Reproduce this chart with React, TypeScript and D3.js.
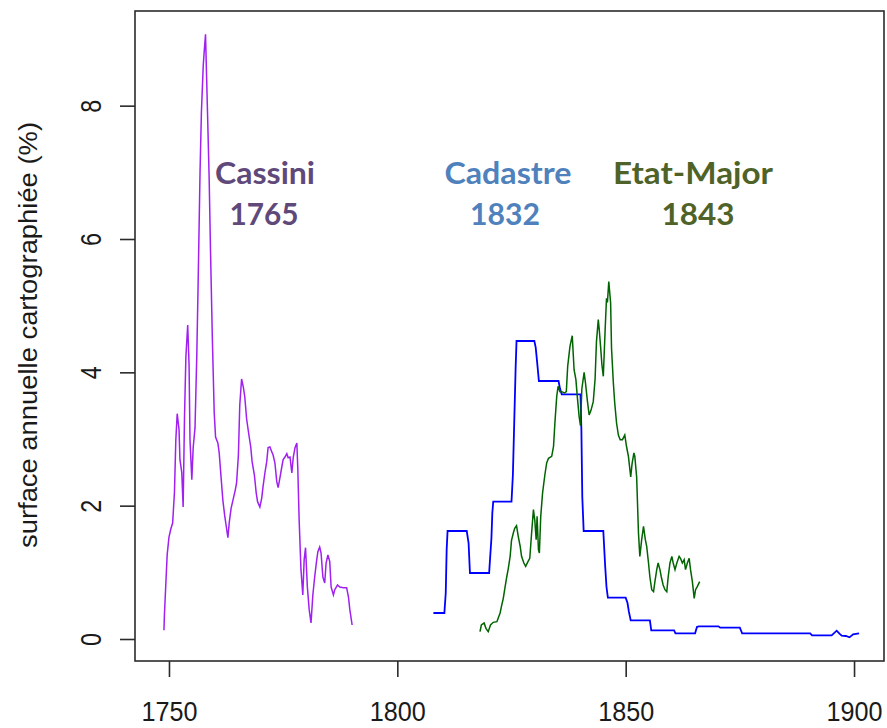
import React, { useEffect, useRef } from "react";
import * as d3 from "d3";

// Cassini survey (purple)
const cassiniYears = [
  1748.9, 1749.0, 1749.3, 1749.6, 1750.0, 1750.4, 1750.8, 1751.2, 1751.5, 1751.8,
  1752.2, 1752.4, 1752.8, 1753.1, 1753.4, 1753.7, 1754.1, 1754.4, 1754.6, 1755.0,
  1755.3, 1755.7, 1756.1, 1756.4, 1756.8, 1757.1, 1757.5, 1757.7, 1758.0, 1758.4,
  1758.8, 1759.1, 1759.5, 1759.9, 1760.2, 1760.7, 1761.0, 1761.4, 1761.8, 1762.2,
  1762.5, 1762.9, 1763.2, 1763.6, 1764.1, 1764.5, 1764.8, 1765.2, 1765.5, 1765.9,
  1766.3, 1766.6, 1767.0, 1767.5, 1767.9, 1768.2, 1768.7, 1769.1, 1769.4, 1769.9,
  1770.3, 1770.6, 1771.0, 1771.4, 1771.7, 1772.1, 1772.5, 1772.8, 1773.2, 1773.6,
  1773.9, 1774.3, 1774.7, 1775.0, 1775.4, 1775.8, 1776.1, 1776.5, 1776.9, 1777.2,
  1777.6, 1778.0, 1778.2, 1778.5, 1778.9, 1779.3, 1779.6, 1779.9, 1780.3, 1780.7,
  1781.1, 1781.5, 1781.9, 1782.3, 1782.6, 1783.0, 1783.3, 1783.7, 1784.1, 1784.4,
  1784.8, 1785.2, 1785.5, 1786.0, 1786.3, 1786.9, 1787.4, 1788.2, 1788.9, 1789.3,
  1789.6, 1790.1,
];
const cassiniValues = [
  0.13, 0.36, 0.81, 1.26, 1.53, 1.65, 1.74, 2.2, 2.99, 3.38,
  3.14, 2.69, 2.5, 1.98, 3.33, 4.23, 4.71, 4.11, 2.99, 2.39,
  2.87, 3.17, 4.29, 5.4, 7.0, 7.9, 8.6, 8.8, 9.07, 8.0,
  6.9, 5.8, 4.5, 3.4, 3.03, 2.94, 2.79, 2.43, 2.08, 1.85,
  1.71, 1.52, 1.75, 1.96, 2.11, 2.23, 2.34, 2.76, 3.51, 3.9,
  3.77, 3.63, 3.3, 3.06, 2.88, 2.66, 2.46, 2.19, 2.06, 1.98,
  2.11, 2.29, 2.49, 2.66, 2.87, 2.88, 2.81, 2.76, 2.64, 2.36,
  2.27, 2.42, 2.58, 2.69, 2.73, 2.78, 2.72, 2.73, 2.49, 2.72,
  2.87, 2.94, 2.57, 1.79, 1.04, 0.66, 1.19, 1.37, 0.78, 0.44,
  0.24, 0.66, 0.93, 1.16, 1.31, 1.38, 1.29, 0.93, 0.84, 1.14,
  1.26, 1.16, 0.78, 0.66, 0.74, 0.81, 0.78, 0.77, 0.77, 0.63,
  0.44, 0.21,
];

// Cadastre (blue)
const cadastreYears = [
  1807.9, 1810.3, 1810.6, 1810.8, 1811.0, 1815.2, 1815.6, 1815.9, 1820.1, 1820.3,
  1820.6, 1820.8, 1821.0, 1825.0, 1825.3, 1825.6, 1825.9, 1826.1, 1830.0, 1830.3,
  1830.6, 1831.0, 1835.3, 1835.6, 1836.0, 1840.1, 1840.3, 1840.5, 1840.8, 1845.1,
  1845.5, 1845.8, 1846.1, 1850.0, 1850.4, 1850.7, 1851.1, 1855.3, 1855.6, 1860.6,
  1860.9, 1865.2, 1865.6, 1866.0, 1870.3, 1870.7, 1875.0, 1875.5, 1890.4, 1890.8,
  1895.1, 1896.2, 1896.8, 1897.3, 1898.2, 1899.0, 1899.8, 1901.1,
];
const cadastreValues = [
  0.39, 0.39, 0.69, 1.34, 1.62, 1.62, 1.44, 0.99, 0.99, 1.2,
  1.51, 1.89, 2.06, 2.06, 2.46, 3.26, 4.06, 4.47, 4.47, 4.37,
  4.16, 3.87, 3.87, 3.76, 3.67, 3.67, 3.14, 2.13, 1.62, 1.62,
  1.1, 0.78, 0.62, 0.62, 0.54, 0.41, 0.28, 0.28, 0.13, 0.13,
  0.085, 0.085, 0.18, 0.19, 0.19, 0.17, 0.17, 0.085, 0.085, 0.055,
  0.055, 0.125, 0.08, 0.05, 0.045, 0.025, 0.07, 0.085,
];

// Etat-Major (green)
const etatMajorYears = [
  1818.1, 1818.4, 1819.0, 1819.4, 1819.9, 1820.4, 1821.0, 1821.8, 1822.5, 1822.8,
  1823.2, 1823.5, 1823.9, 1824.3, 1824.7, 1825.0, 1825.4, 1825.7, 1826.1, 1826.5,
  1826.9, 1827.2, 1827.7, 1828.1, 1828.6, 1829.0, 1829.4, 1829.8, 1830.1, 1830.4,
  1830.6, 1830.9, 1831.1, 1831.4, 1831.8, 1832.3, 1832.7, 1833.1, 1833.8, 1834.2,
  1834.5, 1834.9, 1835.2, 1835.6, 1836.0, 1836.6, 1837.0, 1837.3, 1837.8, 1838.3,
  1838.7, 1839.1, 1839.4, 1839.8, 1840.1, 1840.4, 1840.9, 1841.2, 1841.6, 1842.0,
  1842.4, 1842.9, 1843.3, 1843.6, 1844.0, 1844.2, 1844.5, 1844.8, 1845.1, 1845.5,
  1845.8, 1846.0, 1846.3, 1846.7, 1846.9, 1847.3, 1847.6, 1848.0, 1848.4, 1848.8,
  1849.3, 1849.8, 1850.2, 1850.6, 1851.1, 1851.4, 1851.8, 1852.0, 1852.4, 1852.8,
  1853.1, 1853.5, 1853.9, 1854.3, 1854.6, 1855.0, 1855.3, 1855.7, 1856.1, 1856.4,
  1856.8, 1857.1, 1857.5, 1857.8, 1858.2, 1858.6, 1859.0, 1859.3, 1859.7, 1860.1,
  1860.4, 1860.8, 1861.2, 1861.7, 1862.0, 1862.4, 1862.8, 1863.1, 1863.5, 1863.9,
  1864.2, 1864.6, 1865.0, 1865.3, 1865.7, 1866.2,
];
const etatMajorValues = [
  0.11, 0.21, 0.24, 0.16, 0.11, 0.21, 0.25, 0.26, 0.39, 0.49,
  0.61, 0.74, 0.91, 1.06, 1.24, 1.48, 1.59, 1.66, 1.7, 1.53,
  1.39, 1.24, 1.14, 1.09, 1.16, 1.21, 1.59, 1.94, 1.78, 1.49,
  1.84, 1.34, 1.29, 1.84, 2.19, 2.46, 2.64, 2.71, 2.74, 2.89,
  3.24, 3.64, 3.79, 3.71, 3.71, 3.69, 3.71, 4.09, 4.39, 4.55,
  4.04, 3.89, 3.64, 3.34, 3.2, 3.75, 4.0, 3.84, 3.58, 3.36,
  3.43, 3.56, 3.9, 4.46, 4.79, 4.65, 4.39, 4.11, 3.94, 4.64,
  5.11, 5.05, 5.36, 5.04, 4.36, 3.84, 3.54, 3.24, 3.06, 2.99,
  2.99, 3.06, 2.88, 2.74, 2.43, 2.63, 2.79, 2.74, 2.43, 1.59,
  1.24, 1.49, 1.69, 1.49, 1.39, 1.14, 0.93, 0.74, 0.71, 0.86,
  1.04, 1.14, 1.04, 0.93, 0.81, 0.74, 0.71, 0.93, 1.14, 1.24,
  1.14, 1.04, 1.14, 1.24, 1.21, 1.14, 1.19, 1.04, 1.14, 1.21,
  1.04, 0.86, 0.61, 0.74, 0.79, 0.86,
];

const xTicks = [1750, 1800, 1850, 1900];
const yTicks = [0, 2, 4, 6, 8];
const annotationNames = ["Cassini", "Cadastre", "Etat-Major"];
const annotationYears = ["1765", "1832", "1843"];
const yTitle = "surface annuelle cartographiée (%)";

const width = 887,
  height = 728;
const plot = { left: 135, right: 884, top: 11, bottom: 661 };

const x = d3.scaleLinear().domain([1742.56, 1906.56]).range([plot.left, plot.right]);
const y = d3.scaleLinear().domain([-0.33, 9.42]).range([plot.bottom, plot.top]);

export default function App() {
  const ref = useRef<SVGSVGElement>(null);

  useEffect(() => {
    const svg = d3.select(ref.current);
    svg.selectAll("*").remove();

    const line = d3
      .line<[number, number]>()
      .x((d) => x(d[0]))
      .y((d) => y(d[1]));

    const series = [
      { years: cassiniYears, values: cassiniValues, color: "#a020f0", w: 1.5 },
      { years: cadastreYears, values: cadastreValues, color: "#0000ff", w: 1.8 },
      { years: etatMajorYears, values: etatMajorValues, color: "#006400", w: 1.5 },
    ];

    series.forEach((s) => {
      const pts = s.years.map((yr, i) => [yr, s.values[i]] as [number, number]);
      svg
        .append("path")
        .datum(pts)
        .attr("fill", "none")
        .attr("stroke", s.color)
        .attr("stroke-width", s.w)
        .attr("stroke-linejoin", "miter")
        .attr("d", line);
    });

    // BOX
    svg
      .append("rect")
      .attr("x", plot.left)
      .attr("y", plot.top)
      .attr("width", plot.right - plot.left)
      .attr("height", plot.bottom - plot.top)
      .attr("fill", "none")
      .attr("stroke", "#2b2b2b")
      .attr("stroke-width", 1.6);

    // X axis
    const gx = svg
      .append("g")
      .attr("transform", `translate(0,${plot.bottom})`)
      .call(d3.axisBottom(x).tickValues(xTicks).tickSize(16).tickFormat(d3.format("d")));
    gx.select(".domain").remove();
    gx.selectAll("line").attr("stroke", "#2b2b2b").attr("stroke-width", 1.6);
    gx.selectAll("text")
      .attr("y", 60)
      .attr("dy", 0)
      .attr("fill", "#1a1a1a")
      .attr("font-family", "'Liberation Sans', Arial, sans-serif")
      .attr("font-size", 27)
      .attr("textLength", 56)
      .attr("lengthAdjust", "spacingAndGlyphs");

    // Y axis
    const gy = svg
      .append("g")
      .attr("transform", `translate(${plot.left},0)`)
      .call(d3.axisLeft(y).tickValues(yTicks).tickSize(15).tickFormat(d3.format("d")));
    gy.select(".domain").remove();
    gy.selectAll("line").attr("stroke", "#2b2b2b").attr("stroke-width", 1.6);
    gy.selectAll("text")
      .attr("transform", "rotate(-90)")
      .attr("x", 0)
      .attr("y", -34)
      .attr("dy", 0)
      .attr("text-anchor", "middle")
      .attr("fill", "#1a1a1a")
      .attr("font-family", "'Liberation Sans', Arial, sans-serif")
      .attr("font-size", 30)
      .attr("textLength", 13)
      .attr("lengthAdjust", "spacingAndGlyphs");

    // Y title
    svg
      .append("text")
      .attr("transform", "translate(37,335) rotate(-90)")
      .attr("text-anchor", "middle")
      .attr("fill", "#1a1a1a")
      .attr("font-family", "'Liberation Sans', Arial, sans-serif")
      .attr("font-size", 26)
      .attr("textLength", 426)
      .attr("lengthAdjust", "spacingAndGlyphs")
      .text(yTitle);

    // annotations
    const annColors = ["#5f497a", "#4f81bd", "#4f6228"];
    const annX = [265, 508, 693];
    const annYearX = [264, 505, 698];
    const nameLen = [100, 127, 160];
    const yearLen = [69, 70, 73];
    annotationNames.forEach((name, i) => {
      svg
        .append("text")
        .attr("x", annX[i])
        .attr("y", 184)
        .attr("text-anchor", "middle")
        .attr("fill", annColors[i])
        .attr("font-family", "Lato, 'Open Sans', sans-serif")
        .attr("font-weight", "bold")
        .attr("font-size", 31)
        .attr("textLength", nameLen[i])
        .attr("lengthAdjust", "spacingAndGlyphs")
        .text(name);
      svg
        .append("text")
        .attr("x", annYearX[i])
        .attr("y", 225)
        .attr("text-anchor", "middle")
        .attr("fill", annColors[i])
        .attr("font-family", "Lato, 'Open Sans', sans-serif")
        .attr("font-weight", "bold")
        .attr("font-size", 31)
        .attr("textLength", yearLen[i])
        .attr("lengthAdjust", "spacingAndGlyphs")
        .text(annotationYears[i]);
    });
  }, []);

  return (
    <div style={{ position: "absolute", left: 0, top: 0 }}>
      <svg ref={ref} width={width} height={height} style={{ display: "block", background: "#fff" }} />
    </div>
  );
}
